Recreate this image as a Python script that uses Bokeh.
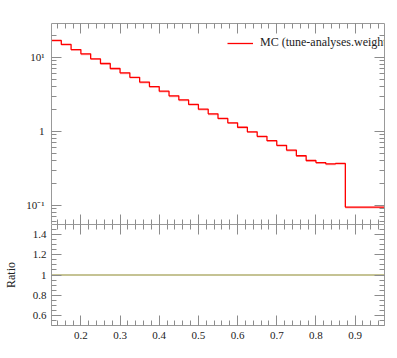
from bokeh.plotting import figure
from bokeh.layouts import column
from bokeh.models import (LogAxis, LinearAxis, SingleIntervalTicker, FixedTicker,
                          CustomJSTickFormatter, Legend, LegendItem, Range1d)
from bokeh.embed import file_html
from bokeh.resources import INLINE

# ---- data ----
bin_edges = [0.125, 0.15, 0.175, 0.2, 0.225, 0.25, 0.275, 0.3, 0.325, 0.35,
             0.375, 0.4, 0.425, 0.45, 0.475, 0.5, 0.525, 0.55, 0.575, 0.6,
             0.625, 0.65, 0.675, 0.7, 0.725, 0.75, 0.775, 0.8, 0.825, 0.85,
             0.875, 0.975]
mc_values = [17.0, 15.0, 12.8, 11.2, 9.6, 8.3, 7.1, 6.2, 5.4, 4.65,
             4.05, 3.5, 3.03, 2.67, 2.32, 2.0, 1.73, 1.5, 1.31, 1.14,
             0.99, 0.86, 0.75, 0.65, 0.56, 0.47, 0.405, 0.38, 0.365, 0.37,
             0.095]
mc_rel_err = [0.04, 0.04, 0.04, 0.04, 0.04, 0.04, 0.04, 0.04, 0.04, 0.04,
              0.04, 0.04, 0.04, 0.04, 0.04, 0.04, 0.04, 0.04, 0.04, 0.04,
              0.04, 0.04, 0.04, 0.04, 0.04, 0.04, 0.04, 0.04, 0.04, 0.04,
              0.04]
ratio_values = [1.0, 1.0, 1.0, 1.0, 1.0, 1.0, 1.0, 1.0, 1.0, 1.0,
                1.0, 1.0, 1.0, 1.0, 1.0, 1.0, 1.0, 1.0, 1.0, 1.0,
                1.0, 1.0, 1.0, 1.0, 1.0, 1.0, 1.0, 1.0, 1.0, 1.0,
                1.0]
log_major_ticks = [0.1, 1, 10]
log_minor_ticks = [0.06, 0.07, 0.08, 0.09,
                   0.2, 0.3, 0.4, 0.5, 0.6, 0.7, 0.8, 0.9,
                   2, 3, 4, 5, 6, 7, 8, 9, 20]
legend_label = "MC (tune-analyses.weights)"
ratio_label = "Ratio"

FONT = "Liberation Serif"
AX = "#999999"
TICK = "#8c8c8c"

x_lo, x_hi = bin_edges[0], bin_edges[-1]

def style_axis(ax, labels=True, major_in=10, minor_in=5):
    ax.axis_line_color = AX
    ax.major_tick_line_color = TICK
    ax.minor_tick_line_color = TICK
    ax.major_tick_in = major_in
    ax.major_tick_out = 0
    ax.minor_tick_in = minor_in
    ax.minor_tick_out = 0
    ax.major_label_text_font = FONT
    ax.major_label_text_font_size = "11px"
    if labels:
        ax.major_label_text_color = "#222222"
    else:
        ax.major_label_text_color = None

def xticker():
    return SingleIntervalTicker(interval=0.1, num_minor_ticks=5)

def logticker():
    return FixedTicker(ticks=log_major_ticks, minor_ticks=log_minor_ticks)

log_fmt = CustomJSTickFormatter(code="""
const e = Math.round(Math.log10(tick));
if (e == 0) { return "1"; }
const sup = {"-":"\u207b","0":"\u2070","1":"\u00b9","2":"\u00b2","3":"\u00b3",
             "4":"\u2074","5":"\u2075","6":"\u2076","7":"\u2077","8":"\u2078","9":"\u2079"};
return "10" + String(e).split("").map(c => sup[c]).join("");
""")

# ---- top panel ----
p1 = figure(width=397, height=224, output_backend="svg", toolbar_location=None,
            x_range=Range1d(x_lo, x_hi), y_range=Range1d(0.0553, 28.8),
            y_axis_type="log",
            min_border_left=49, min_border_right=13, min_border_top=23,
            min_border_bottom=0)
p1.outline_line_color = None
p1.xgrid.visible = False
p1.ygrid.visible = False

lefts = bin_edges[:-1]
rights = bin_edges[1:]
band_lo = [v * (1 - e) for v, e in zip(mc_values, mc_rel_err)]
band_hi = [v * (1 + e * 0.25) for v, e in zip(mc_values, mc_rel_err)]
p1.quad(left=lefts, right=rights, bottom=band_lo, top=band_hi,
        fill_color="#ff7070", fill_alpha=0.55, line_color=None)
line = p1.step(x=bin_edges, y=mc_values + [mc_values[-1]], mode="after",
               line_color="#ff0000", line_width=1.3)

style_axis(p1.xaxis[0], labels=False)
p1.xaxis[0].ticker = xticker()
style_axis(p1.yaxis[0], labels=True)
p1.yaxis[0].ticker = logticker()
p1.yaxis[0].formatter = log_fmt
p1.yaxis[0].major_label_standoff = 7

top_ax = LinearAxis(ticker=xticker())
style_axis(top_ax, labels=False)
p1.add_layout(top_ax, "above")
right_ax = LogAxis(ticker=logticker())
style_axis(right_ax, labels=False)
p1.add_layout(right_ax, "right")

legend = Legend(items=[LegendItem(label=legend_label, renderers=[line])],
                location=(176, 174), padding=0, margin=0, spacing=0,
                border_line_color=None, background_fill_alpha=0,
                glyph_width=26, glyph_height=12, label_height=12,
                label_standoff=7, label_text_font=FONT,
                label_text_font_size="12px", label_text_color="#222222")
p1.add_layout(legend, "center")

# ---- ratio panel ----
p2 = figure(width=397, height=134, output_backend="svg", toolbar_location=None,
            x_range=p1.x_range, y_range=Range1d(0.5, 1.5),
            min_border_left=49, min_border_right=13, min_border_top=0,
            min_border_bottom=33)
p2.outline_line_color = None
p2.xgrid.visible = False
p2.ygrid.visible = False
p2.step(x=bin_edges, y=ratio_values + [ratio_values[-1]], mode="after",
        line_color="#b3b071", line_width=1.3)

style_axis(p2.xaxis[0], labels=True)
p2.xaxis[0].ticker = xticker()
p2.xaxis[0].major_label_standoff = 6
style_axis(p2.yaxis[0], labels=True)
p2.yaxis[0].ticker = SingleIntervalTicker(interval=0.2, num_minor_ticks=4)
p2.yaxis[0].formatter = CustomJSTickFormatter(
    code="return (Math.round(tick * 10) / 10).toString();")
p2.yaxis[0].major_label_standoff = 5
p2.yaxis[0].axis_label = ratio_label
p2.yaxis[0].axis_label_text_font = FONT
p2.yaxis[0].axis_label_text_font_style = "normal"
p2.yaxis[0].axis_label_text_font_size = "12px"
p2.yaxis[0].axis_label_text_color = "#222222"
p2.yaxis[0].axis_label_standoff = 12

top2 = LinearAxis(ticker=xticker())
style_axis(top2, labels=False)
p2.add_layout(top2, "above")
right2 = LinearAxis(ticker=SingleIntervalTicker(interval=0.2, num_minor_ticks=4))
style_axis(right2, labels=False)
p2.add_layout(right2, "right")

layout = column(p1, p2, spacing=0)
open("out.html", "w").write(file_html(layout, INLINE))
